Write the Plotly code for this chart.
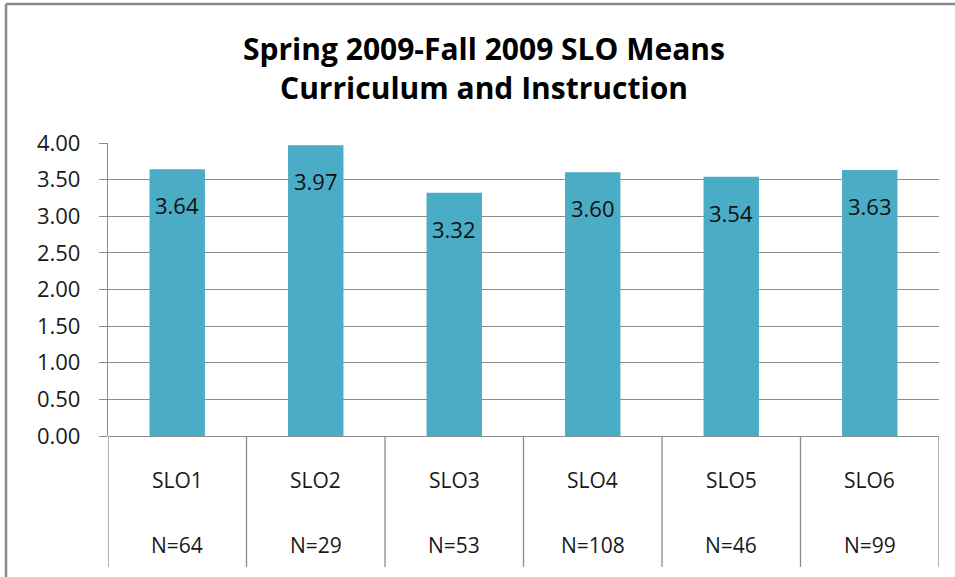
import plotly.graph_objects as go

categories = ["SLO1", "SLO2", "SLO3", "SLO4", "SLO5", "SLO6"]
n_labels = ["N=64", "N=29", "N=53", "N=108", "N=46", "N=99"]
means = [3.64, 3.97, 3.32, 3.60, 3.54, 3.63]
y_ticks = [0, 0.5, 1.0, 1.5, 2.0, 2.5, 3.0, 3.5, 4.0]

BAR = "#4BACC6"
GRID = "#8C8C8C"
FONT = "Open Sans"

W, H = 955, 577
L, T = 108, 143
R = W - 939
B = H - 436
pw = W - L - R
ph = H - T - B

def ry(p):
    return (436 - p) / ph

def rx(p):
    return (p - 108) / pw

fig = go.Figure()
fig.add_trace(go.Bar(x=list(range(len(categories))), y=means, width=0.4,
                     marker=dict(color=BAR, line=dict(width=0)), hoverinfo="skip"))

anns = []
for i, (c, n, v) in enumerate(zip(categories, n_labels, means)):
    anns.append(dict(x=i, y=v, xref="x", yref="y", text=f"{v:.2f}", showarrow=False,
                     yanchor="top", yshift=-19, font=dict(family=FONT, size=22, color="#111")))
    anns.append(dict(x=i, y=ry(480), xref="x", yref="paper", text=c, showarrow=False,
                     yanchor="middle", font=dict(family=FONT, size=21, color="#1a1a1a")))
    anns.append(dict(x=i, y=ry(545), xref="x", yref="paper", text=n, showarrow=False,
                     yanchor="middle", font=dict(family=FONT, size=21, color="#1a1a1a")))

shapes = []
for k in range(len(categories) + 1):
    shapes.append(dict(type="line", xref="x", yref="paper", x0=k - 0.5, x1=k - 0.5,
                       y0=0, y1=ry(567), line=dict(color=GRID, width=1.3)))
# outer chart border (left and top visible)
shapes.append(dict(type="line", xref="paper", yref="paper", x0=rx(6), x1=rx(6),
                   y0=ry(4), y1=ry(600), line=dict(color="#8A8A8A", width=2.5)))
shapes.append(dict(type="line", xref="paper", yref="paper", x0=rx(6), x1=rx(990),
                   y0=ry(4), y1=ry(4), line=dict(color="#8A8A8A", width=2.5)))

fig.update_layout(
    width=W, height=H,
    margin=dict(l=L, r=R, t=T, b=B),
    paper_bgcolor="white", plot_bgcolor="white",
    showlegend=False,
    title=dict(text="<b>Spring 2009-Fall 2009 SLO Means<br>Curriculum and Instruction</b>",
               x=484 / W, xref="container", xanchor="center",
               y=1 - 60 / H, yref="container", yanchor="middle",
               font=dict(family=FONT, size=30, color="#000")),
    xaxis=dict(range=[-0.5, len(categories) - 0.5], showticklabels=False, showgrid=False,
               zeroline=False, showline=False, ticks=""),
    yaxis=dict(range=[0, 4], tickvals=y_ticks, ticktext=[f"{t:.2f}" for t in y_ticks],
               showgrid=True, gridcolor=GRID, gridwidth=1.2, zeroline=True, zerolinecolor=GRID,
               zerolinewidth=1.3, showline=True, linecolor=GRID, linewidth=1.3,
               ticks="outside", ticklen=8, tickcolor=GRID, ticklabelstandoff=14,
               tickfont=dict(family=FONT, size=22, color="#1a1a1a")),
    annotations=anns, shapes=shapes,
)

fig.write_html("out.html", config={"displayModeBar": False},
               post_script="document.body.style.margin='0';document.body.style.overflow='hidden';")
